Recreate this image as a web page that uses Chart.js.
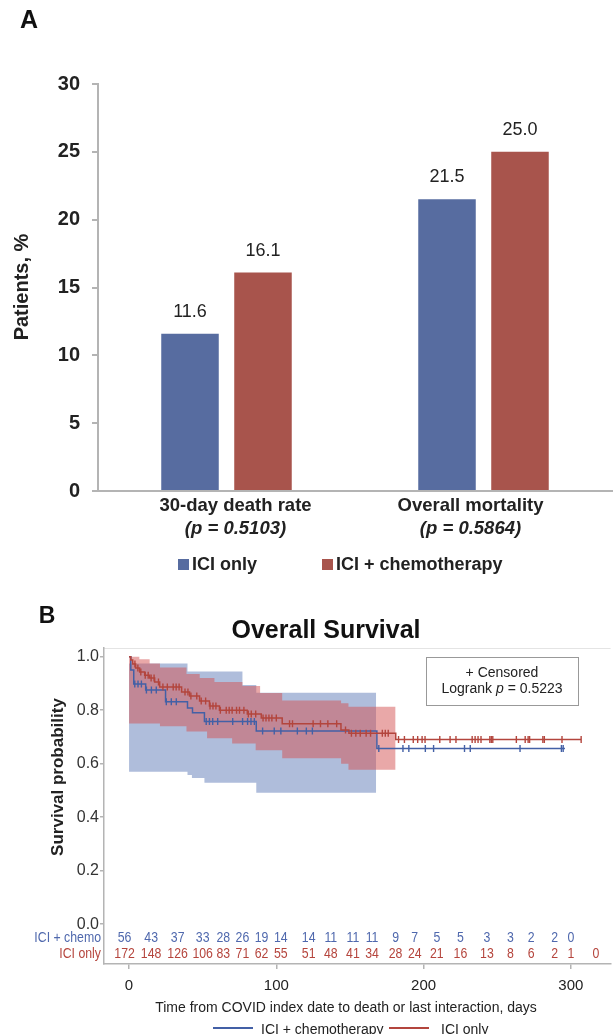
<!DOCTYPE html>
<html>
<head>
<meta charset="utf-8">
<title>ICI vs ICI + chemotherapy – mortality and overall survival</title>
<script src="https://cdn.jsdelivr.net/npm/chart.js@4.4.1/dist/chart.umd.min.js"></script>
<style>
  html, body { margin: 0; padding: 0; background: #fff; }
  canvas { display: block; }
</style>
</head>
<body>
<canvas id="panel-a" width="616" height="600"></canvas>
<canvas id="panel-b" width="616" height="434"></canvas>
<script>
// ---- Panel A: death rates, % of patients ----
const categories = ['30-day death rate', 'Overall mortality'];
const pLabels    = ['(p = 0.5103)', '(p = 0.5864)'];
const iciOnly    = [11.6, 21.5];
const iciChemo   = [16.1, 25.0];

// ---- Panel B: Kaplan-Meier overall survival ----
// step curves: value holds from time[i] until time[i+1]
const chemoTimes = [0, 1.2, 3.2, 11.3, 24.8, 39.7, 43.1, 51.2, 86.4, 168.3];
const chemoSurv  = [1.0, 0.95, 0.898, 0.875, 0.832, 0.808, 0.79, 0.758, 0.722, 0.657];
const chemoEnd   = 296;
const iciTimes   = [0, 1.2, 2.5, 4.5, 7.2, 10.6, 14, 17.4, 20.8, 35.7, 41.1, 47.9, 54.6, 61.4, 80.3, 89.8, 104, 143.9, 149.3, 181.1];
const iciSurv    = [1.0, 0.988, 0.973, 0.958, 0.943, 0.931, 0.92, 0.905, 0.887, 0.868, 0.853, 0.834, 0.816, 0.80, 0.786, 0.771, 0.749, 0.726, 0.714, 0.69];
const iciEnd     = 307;

// confidence bands
const chemoBandTimes = [0, 39.7, 42.7, 51.2, 77, 86.4, 167.8];
const chemoUpper     = [0.975, 0.945, 0.945, 0.945, 0.894, 0.865, 0.865];
const chemoLower     = [0.570, 0.558, 0.546, 0.529, 0.529, 0.491, 0.491];
const iciBandTimes   = [0, 7, 14, 21, 39, 48, 53, 58, 70, 77, 86, 89, 104, 144, 149, 181];
const iciUpper       = [1.0, 0.99, 0.975, 0.96, 0.935, 0.92, 0.92, 0.905, 0.905, 0.89, 0.89, 0.864, 0.836, 0.826, 0.813, 0.813];
const iciLower       = [0.75, 0.75, 0.75, 0.74, 0.72, 0.72, 0.695, 0.695, 0.675, 0.675, 0.65, 0.65, 0.62, 0.60, 0.577, 0.577];

// censored observations (days)
const chemoCensored = [3.9, 6.1, 8.4, 11.8, 15.2, 18.5, 25.3, 28.7, 32.1, 52.4, 54.6, 56.8, 60.2, 70.4, 77.1, 80.5, 82.8, 85.1,
  90.7, 98.6, 103.1, 114.3, 120.4, 124.5, 169.6, 186, 190, 201.2, 206.8, 227.8, 231.7, 265.5, 293.6, 294.8];
const iciCensored = [4, 6, 8, 11, 13, 15, 17, 20, 23, 26, 30, 32, 34, 38, 40, 42, 46, 49, 52, 55, 57, 59, 62, 66, 68, 70, 73, 75,
  78, 81, 83, 86, 91, 93, 95, 97, 100, 109, 111, 125, 130, 135, 141, 147, 151, 154, 157, 161, 164, 172, 174, 176, 183, 187, 193,
  196, 199, 201, 211, 218, 222, 233, 235, 237, 239, 245, 246, 247, 263, 269, 271, 272, 281, 282, 294, 307];

// numbers at risk
const atRiskDays  = [-3, 15, 33, 50, 64, 77, 90, 103, 122, 137, 152, 165, 181, 194, 209, 225, 243, 259, 273, 289, 300, 317];
const atRiskChemo = [56, 43, 37, 33, 28, 26, 19, 14, 14, 11, 11, 11, 9, 7, 5, 5, 3, 3, 2, 2, 0];
const atRiskIci   = [172, 148, 126, 106, 83, 71, 62, 55, 51, 48, 41, 34, 28, 24, 21, 16, 13, 8, 6, 2, 1, 0];

const xTicksB = [0, 100, 200, 300];
const yTicksB = [0, 0.2, 0.4, 0.6, 0.8, 1.0];

const FONT = '"Liberation Sans", Arial, Helvetica, sans-serif';
const BLUE = '#576ca0';
const RED  = '#a8544c';
const LINE_BLUE = '#4360a6';
const LINE_RED  = '#b3453d';
const AXIS = '#b4b4b4';

function drawText(ctx, str, x, y, font, color, align = 'center') {
  ctx.font = font;
  ctx.fillStyle = color;
  ctx.textAlign = align;
  ctx.textBaseline = 'middle';
  ctx.fillText(str, x, y);
}

// narrow text (the at-risk table uses a condensed face)
function drawNarrow(ctx, str, x, y, font, color, sx, align = 'center') {
  ctx.save();
  ctx.translate(x, y);
  ctx.scale(sx, 1);
  drawText(ctx, str, 0, 0, font, color, align);
  ctx.restore();
}

// ---------------- Panel A ----------------
const panelAText = {
  id: 'panelAText',
  afterDraw(chart) {
    const { ctx, scales: { x } } = chart;
    ctx.save();
    drawText(ctx, 'A', 29, 21, 'bold 25px ' + FONT, '#111');

    // value labels above bars
    chart.data.datasets.forEach((ds, di) => {
      chart.getDatasetMeta(di).data.forEach((bar, i) => {
        drawText(ctx, ds.data[i].toFixed(1), bar.x, bar.y - 22, '18px ' + FONT, '#222');
      });
    });

    // category labels, two lines
    const shift = [9, -13];
    categories.forEach((c, i) => {
      const cx = x.getPixelForValue(i) + shift[i];
      drawText(ctx, c, cx, 506, 'bold 18.5px ' + FONT, '#222');
      drawText(ctx, pLabels[i], cx, 529, 'italic bold 18.5px ' + FONT, '#222');
    });

    // y title
    ctx.save();
    ctx.translate(22, 287);
    ctx.rotate(-Math.PI / 2);
    drawText(ctx, 'Patients, %', 0, 0, 'bold 20px ' + FONT, '#222');
    ctx.restore();

    // legend
    ctx.fillStyle = BLUE;
    ctx.fillRect(178, 559, 11, 11);
    drawText(ctx, 'ICI only', 192, 565, 'bold 18px ' + FONT, '#222', 'left');
    ctx.fillStyle = RED;
    ctx.fillRect(322, 559, 11, 11);
    drawText(ctx, 'ICI + chemotherapy', 336, 565, 'bold 18px ' + FONT, '#222', 'left');
    ctx.restore();
  }
};

new Chart(document.getElementById('panel-a'), {
  type: 'bar',
  data: {
    labels: categories,
    datasets: [
      { label: 'ICI only', data: iciOnly, backgroundColor: BLUE, categoryPercentage: 0.568, barPercentage: 0.788 },
      { label: 'ICI + chemotherapy', data: iciChemo, backgroundColor: RED, categoryPercentage: 0.568, barPercentage: 0.788 }
    ]
  },
  options: {
    responsive: false,
    animation: false,
    layout: { padding: { top: 84, right: 4, left: 0, bottom: 0 } },
    plugins: { legend: { display: false }, tooltip: { enabled: false } },
    scales: {
      x: {
        grid: { display: false },
        border: { color: AXIS, width: 2 },
        ticks: { display: false },
        afterFit: s => { s.height = 109; }
      },
      y: {
        min: 0, max: 30,
        ticks: { stepSize: 5, color: '#222', padding: 12, font: { family: FONT, size: 20, weight: 'bold' } },
        grid: { drawOnChartArea: false, tickLength: 6, color: AXIS, lineWidth: 2 },
        border: { color: AXIS, width: 2 },
        afterFit: s => { s.width = 98; }
      }
    }
  },
  plugins: [panelAText]
});

// ---------------- Panel B ----------------
function stepPoints(times, vals, end) {
  const pts = times.map((t, i) => ({ x: t, y: vals[i] }));
  if (end !== undefined) pts.push({ x: end, y: vals[vals.length - 1] });
  return pts;
}
function survAt(times, vals, t) {
  let s = vals[0];
  times.forEach((tt, i) => { if (tt <= t) s = vals[i]; });
  return s;
}

const panelBText = {
  id: 'panelBText',
  beforeDraw(chart) {
    const { ctx, chartArea: a } = chart;
    ctx.save();
    ctx.strokeStyle = '#e4e4e4';
    ctx.lineWidth = 1;
    ctx.beginPath();
    ctx.moveTo(a.left, a.top + 0.5);
    ctx.lineTo(a.right, a.top + 0.5);
    ctx.stroke();
    ctx.restore();
  },
  afterDraw(chart) {
    const { ctx, scales: { x, y } } = chart;
    ctx.save();
    drawText(ctx, 'B', 47, 17, 'bold 23px ' + FONT, '#111');
    drawText(ctx, 'Overall Survival', 326, 31, 'bold 25px ' + FONT, '#111');

    // censored / logrank box
    ctx.strokeStyle = '#999';
    ctx.lineWidth = 1;
    ctx.strokeRect(426.5, 57.5, 152, 48);
    drawText(ctx, '+ Censored', 502, 73, '14px ' + FONT, '#222');
    const f = '14px ' + FONT, fi = 'italic 14px ' + FONT;
    const parts = [['Logrank ', f], ['p', fi], [' = 0.5223', f]];
    let w = 0;
    parts.forEach(([s, ft]) => { ctx.font = ft; w += ctx.measureText(s).width; });
    let px = 502 - w / 2;
    parts.forEach(([s, ft]) => {
      drawText(ctx, s, px, 89, ft, '#222', 'left');
      ctx.font = ft;
      px += ctx.measureText(s).width;
    });

    // y title
    ctx.save();
    ctx.translate(58, 177);
    ctx.rotate(-Math.PI / 2);
    drawText(ctx, 'Survival probability', 0, 0, 'bold 17px ' + FONT, '#222');
    ctx.restore();

    // numbers at risk
    const yChemo = y.getPixelForValue(-0.052);
    const yIci = y.getPixelForValue(-0.111);
    drawNarrow(ctx, 'ICI + chemo', 101, yChemo, '15px ' + FONT, '#4f68ad', 0.82, 'right');
    drawNarrow(ctx, 'ICI only', 101, yIci, '15px ' + FONT, '#b5453d', 0.82, 'right');
    atRiskChemo.forEach((n, i) => drawNarrow(ctx, String(n), x.getPixelForValue(atRiskDays[i]), yChemo, '15px ' + FONT, '#4f68ad', 0.82));
    atRiskIci.forEach((n, i) => drawNarrow(ctx, String(n), x.getPixelForValue(atRiskDays[i]), yIci, '15px ' + FONT, '#b5453d', 0.82));

    // x title
    drawText(ctx, 'Time from COVID index date to death or last interaction, days', 346, 408, '14px ' + FONT, '#222');

    // legend
    ctx.lineWidth = 2;
    ctx.strokeStyle = LINE_BLUE;
    ctx.beginPath(); ctx.moveTo(213, 428); ctx.lineTo(253, 428); ctx.stroke();
    drawText(ctx, 'ICI + chemotherapy', 261, 430, '14px ' + FONT, '#222', 'left');
    ctx.strokeStyle = LINE_RED;
    ctx.beginPath(); ctx.moveTo(389, 428); ctx.lineTo(429, 428); ctx.stroke();
    drawText(ctx, 'ICI only', 441, 430, '14px ' + FONT, '#222', 'left');
    ctx.restore();
  }
};

const bandLine = { borderWidth: 0, pointRadius: 0, stepped: true, fill: false };
const censorStyle = { showLine: false, pointStyle: 'line', rotation: 90, pointRadius: 3.5, pointBorderWidth: 1.4 };

new Chart(document.getElementById('panel-b'), {
  type: 'line',
  data: {
    datasets: [
      { ...bandLine, label: 'chemo upper', data: stepPoints(chemoBandTimes, chemoUpper), order: 6 },
      { ...bandLine, label: 'chemo lower', data: stepPoints(chemoBandTimes, chemoLower), order: 6,
        fill: '-1', backgroundColor: 'rgba(110,135,190,0.55)' },
      { ...bandLine, label: 'ici upper', data: stepPoints(iciBandTimes, iciUpper), order: 5 },
      { ...bandLine, label: 'ici lower', data: stepPoints(iciBandTimes, iciLower), order: 5,
        fill: '-1', backgroundColor: 'rgba(212,82,82,0.5)' },
      { label: 'ICI + chemotherapy', data: stepPoints(chemoTimes, chemoSurv, chemoEnd), stepped: true,
        borderColor: LINE_BLUE, borderWidth: 1.5, pointRadius: 0, fill: false, order: 2 },
      { label: 'ICI only', data: stepPoints(iciTimes, iciSurv, iciEnd), stepped: true,
        borderColor: LINE_RED, borderWidth: 1.5, pointRadius: 0, fill: false, order: 1 },
      { ...censorStyle, label: 'chemo censored', order: 0, pointBorderColor: LINE_BLUE,
        data: chemoCensored.map(t => ({ x: t, y: survAt(chemoTimes, chemoSurv, t) })) },
      { ...censorStyle, label: 'ici censored', order: 0, pointBorderColor: LINE_RED,
        data: iciCensored.map(t => ({ x: t, y: survAt(iciTimes, iciSurv, t) })) }
    ]
  },
  options: {
    responsive: false,
    animation: false,
    layout: { padding: { top: 48, right: 4, left: 0, bottom: 0 } },
    plugins: { legend: { display: false }, tooltip: { enabled: false } },
    scales: {
      x: {
        type: 'linear', min: -17, max: 327,
        afterBuildTicks: s => { s.ticks = xTicksB.map(v => ({ value: v })); },
        ticks: { color: '#222', padding: 8, font: { family: FONT, size: 15 } },
        grid: { drawOnChartArea: false, tickLength: 5, color: AXIS, lineWidth: 1.5 },
        border: { color: AXIS, width: 1.5 },
        afterFit: s => { s.height = 70; }
      },
      y: {
        type: 'linear', min: -0.149, max: 1.0325,
        afterBuildTicks: s => { s.ticks = yTicksB.map(v => ({ value: v })); },
        ticks: { color: '#333', padding: 1, font: { family: FONT, size: 16 }, callback: v => v.toFixed(1) },
        grid: { drawOnChartArea: false, tickLength: 4, color: AXIS, lineWidth: 1.5 },
        border: { color: AXIS, width: 1.5 },
        afterFit: s => { s.width = 104; }
      }
    }
  },
  plugins: [panelBText]
});
</script>
</body>
</html>
